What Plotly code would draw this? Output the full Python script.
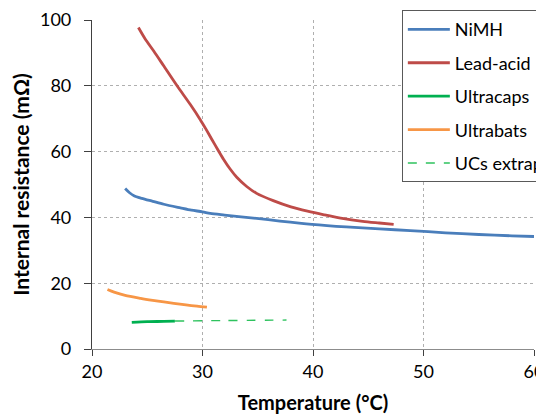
import plotly.graph_objects as go

# NiMH
nimh_t = [23.0, 23.4, 23.8, 24.5, 25.5, 26.5, 28.0, 29.0, 30.0, 30.7, 32.0, 34.9, 37.0, 39.9, 43.0, 46.0, 48.8, 52.0, 55.0, 58.0, 60.0]
nimh_r = [48.8, 47.5, 46.6, 45.8, 44.9, 44.0, 42.9, 42.2, 41.7, 41.2, 40.7, 39.7, 38.9, 37.9, 37.1, 36.5, 36.0, 35.3, 34.8, 34.4, 34.2]
# Lead-acid
lead_t = [24.2, 24.8, 25.6, 26.5, 27.7, 28.9, 29.8, 30.3, 30.85, 31.4, 31.9, 32.5, 33.1, 34.0, 34.9, 36.4, 38.0, 39.5, 41.0, 42.5, 44.5, 46.0, 47.3]
lead_r = [97.7, 94.3, 90.5, 86.0, 80.0, 74.3, 69.7, 66.9, 63.7, 60.5, 57.7, 54.7, 52.2, 49.4, 47.3, 45.1, 43.2, 41.9, 40.8, 39.8, 38.8, 38.3, 37.9]
# Ultracaps
uc_t = [23.6, 25.0, 26.5, 27.5]
uc_r = [8.1, 8.3, 8.4, 8.5]
# Ultrabats
ub_t = [21.4, 22.0, 23.0, 24.4, 25.5, 26.5, 27.4, 28.5, 29.5, 30.4]
ub_r = [18.1, 17.3, 16.3, 15.4, 14.8, 14.3, 13.9, 13.4, 13.0, 12.7]
# UCs extrapolation
ucx_t = [27.5, 32.0, 37.6]
ucx_r = [8.5, 8.65, 8.8]

FONT = "Lato, 'Open Sans', sans-serif"

fig = go.Figure()
series = [
    ("NiMH", nimh_t, nimh_r, "#4A7EBB", "solid", 2.8),
    ("Lead-acid", lead_t, lead_r, "#BE4B48", "solid", 2.8),
    ("Ultracaps", uc_t, uc_r, "#00B050", "solid", 2.8),
    ("Ultrabats", ub_t, ub_r, "#F79646", "solid", 2.8),
    ("UCs extrap", ucx_t, ucx_r, "#2EC25E", "dash", 1.4),
]
for i, (name, x, y, c, d, w) in enumerate(series):
    fig.add_trace(go.Scatter(x=x, y=y, mode="lines", name=name,
                             line=dict(color=c, width=w, dash=d,
                                       shape="spline", smoothing=0.8),
                             legendgroup=f"g{i}"))

fig.update_layout(
    width=536, height=408,
    margin=dict(l=84, r=10, t=12, b=67, autoexpand=False),
    plot_bgcolor="white", paper_bgcolor="white",
    font=dict(family=FONT, size=18, color="#000000"),
    showlegend=True,
    legend=dict(x=0.701, y=1.03, xanchor="left", yanchor="top",
                bgcolor="white", bordercolor="#595959", borderwidth=1,
                font=dict(size=18, family=FONT), tracegroupgap=7,
                itemwidth=42, traceorder="grouped"),
    xaxis=dict(range=[20, 60], tickvals=[20, 30, 40, 50, 60],
               showgrid=True, gridcolor="#AFAFAF", griddash="dot", gridwidth=1,
               showline=True, linecolor="#8C8C8C", linewidth=1.2,
               ticks="outside", ticklen=6, tickcolor="#404040",
               zeroline=False, tickfont=dict(size=18),
               ticklabeloverflow="allow",
               title=dict(text="<b>Temperature (°C)</b>", standoff=15,
                          font=dict(size=20))),
    yaxis=dict(range=[0, 100], tickvals=[0, 20, 40, 60, 80, 100],
               showgrid=True, gridcolor="#AFAFAF", griddash="dot", gridwidth=1,
               showline=True, linecolor="#404040", linewidth=1.2,
               ticks="outside", ticklen=7, tickcolor="#404040",
               zeroline=False, tickfont=dict(size=18),
               ticklabeloverflow="allow", ticklabelstandoff=9,
               title=dict(text="<b>Internal resistance (mΩ)</b>", standoff=9,
                          font=dict(size=21))),
)

fig.write_html("out.html")
